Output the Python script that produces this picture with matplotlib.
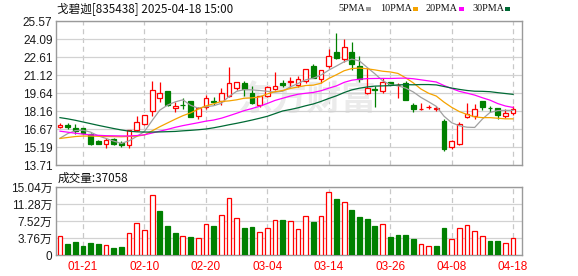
import matplotlib
matplotlib.use("Agg")
import matplotlib.pyplot as plt
from matplotlib.patches import Rectangle

plt.rcParams['font.family'] = ['Liberation Sans', 'Noto Sans CJK SC']

# ---- data (one entry per trading day, 01-16 .. 04-18) ----
opens = [16.81, 17.03, 16.76, 16.76, 16.27, 15.70, 15.43, 15.86, 15.54, 15.32,
         16.57, 17.06, 18.18, 19.27, 19.79, 18.45, 18.70, 18.97, 17.72, 18.48,
         19.02, 19.00, 19.38, 20.06, 20.44, 19.68, 18.67, 19.43, 20.01, 20.44,
         20.55, 20.28, 20.66, 21.86, 20.82, 21.86, 23.01, 22.43, 23.06, 21.89,
         19.65, 19.98, 19.81, 20.52, 20.30, 20.44, 18.70, 18.31, 18.47, 18.36,
         17.31, 15.21, 15.43, 17.66, 17.72, 19.02, 18.45, 18.40, 17.77, 18.04]
highs = [17.17, 17.17, 17.06, 16.76, 16.33, 15.81, 15.97, 15.97, 15.70, 16.63,
         17.74, 17.85, 20.61, 20.53, 19.85, 18.90, 19.20, 19.00, 18.46, 19.46,
         19.30, 20.03, 21.83, 20.60, 20.66, 20.25, 19.43, 20.25, 21.42, 20.72,
         20.99, 21.04, 21.67, 22.08, 21.56, 23.31, 24.64, 24.13, 23.88, 22.71,
         21.75, 20.25, 20.85, 20.55, 20.50, 20.66, 18.80, 18.81, 18.70, 18.59,
         17.52, 15.81, 17.28, 18.86, 18.75, 19.02, 18.62, 18.40, 18.32, 18.62]
lows = [16.76, 16.65, 16.30, 16.24, 15.40, 15.43, 15.15, 15.37, 15.21, 15.15,
        16.52, 17.00, 17.77, 18.92, 18.60, 18.05, 18.37, 17.69, 17.53, 18.34,
        18.64, 18.70, 19.30, 19.90, 19.41, 18.75, 18.53, 19.35, 19.93, 20.12,
        20.12, 20.12, 20.47, 20.93, 20.50, 21.70, 22.46, 22.22, 21.56, 20.53,
        19.57, 18.53, 19.65, 20.30, 19.25, 19.08, 18.10, 18.28, 18.32, 18.13,
        14.85, 15.07, 15.32, 17.61, 17.53, 18.26, 18.12, 17.50, 17.58, 17.83]
closes = [16.98, 16.82, 16.49, 16.33, 15.48, 15.43, 15.75, 15.43, 15.37, 16.57,
          17.22, 17.80, 19.93, 19.68, 18.64, 18.55, 18.65, 17.69, 18.45, 19.27,
          18.92, 19.68, 20.50, 20.58, 19.95, 18.83, 19.43, 20.14, 20.25, 20.33,
          20.65, 20.82, 21.67, 20.93, 21.56, 22.71, 22.52, 23.44, 22.02, 20.80,
          20.03, 19.92, 20.58, 20.36, 20.35, 19.08, 18.34, 18.34, 18.53, 18.45,
          15.02, 15.67, 17.06, 17.93, 18.37, 18.48, 18.39, 17.83, 18.04, 18.37]

ma5 = [15.92, 16.30, 16.55, 16.58, 16.42, 16.11, 15.90, 15.68, 15.49, 15.71,
       16.07, 16.48, 17.38, 18.24, 18.65, 18.92, 19.09, 18.64, 18.40, 18.52,
       18.60, 18.80, 19.36, 19.79, 19.93, 19.91, 19.86, 19.79, 19.72, 19.80,
       20.16, 20.44, 20.74, 20.88, 21.13, 21.54, 21.88, 22.23, 22.45, 22.30,
       21.76, 21.24, 20.67, 20.34, 20.25, 20.06, 19.74, 19.29, 18.93, 18.55,
       17.74, 17.20, 16.95, 16.83, 16.81, 17.50, 18.05, 18.20, 18.22, 18.22]
ma10 = [15.90, 15.98, 16.06, 16.10, 16.10, 16.08, 16.06, 16.05, 16.04, 16.07,
        16.09, 16.19, 16.53, 16.87, 17.18, 17.49, 17.78, 18.01, 18.32, 18.59,
        18.76, 18.95, 19.00, 19.09, 19.22, 19.25, 19.33, 19.58, 19.76, 19.86,
        20.03, 20.15, 20.27, 20.30, 20.46, 20.85, 21.16, 21.49, 21.67, 21.71,
        21.65, 21.56, 21.45, 21.39, 21.27, 20.91, 20.49, 19.98, 19.63, 19.40,
        18.90, 18.47, 18.12, 17.88, 17.68, 17.62, 17.62, 17.57, 17.52, 17.52]
ma20 = [16.50, 16.42, 16.33, 16.26, 16.20, 16.16, 16.13, 16.12, 16.11, 16.11,
        16.14, 16.20, 16.35, 16.50, 16.65, 16.82, 16.96, 17.08, 17.20, 17.33,
        17.42, 17.57, 17.77, 17.98, 18.20, 18.37, 18.56, 18.79, 19.04, 19.22,
        19.40, 19.55, 19.63, 19.70, 19.84, 20.05, 20.24, 20.53, 20.71, 20.79,
        20.84, 20.85, 20.86, 20.85, 20.87, 20.88, 20.83, 20.74, 20.65, 20.56,
        20.27, 20.02, 19.79, 19.64, 19.48, 19.26, 19.06, 18.78, 18.58, 18.46]
ma30 = [17.62, 17.52, 17.40, 17.26, 17.12, 16.98, 16.85, 16.72, 16.60, 16.50,
        16.45, 16.43, 16.43, 16.44, 16.46, 16.48, 16.53, 16.57, 16.62, 16.68,
        16.78, 16.90, 17.03, 17.15, 17.28, 17.42, 17.57, 17.73, 17.95, 18.17,
        18.29, 18.43, 18.60, 18.75, 18.96, 19.20, 19.42, 19.69, 19.91, 20.05,
        20.15, 20.22, 20.24, 20.26, 20.32, 20.34, 20.33, 20.35, 20.35, 20.32,
        20.19, 20.06, 19.95, 19.86, 19.80, 19.79, 19.76, 19.68, 19.61, 19.54]

# volume in 万 (10k); vol_up = bar drawn red (hollow) vs green
vol_wan = [4.18, 2.42, 2.86, 1.98, 2.64, 2.42, 2.20, 1.54, 1.83, 4.77,
           6.97, 5.43, 13.35, 9.68, 6.38, 4.84, 4.18, 3.98, 3.72, 6.75,
           6.38, 8.95, 12.69, 8.14, 5.94, 6.16, 4.99, 5.87, 7.85, 7.70,
           7.41, 5.65, 8.73, 7.26, 8.73, 14.01, 12.33, 11.81, 9.90, 8.36,
           7.92, 6.38, 6.75, 3.96, 4.40, 4.40, 3.52, 2.35, 1.98, 1.98,
           5.94, 3.45, 5.94, 6.53, 5.21, 4.18, 3.08, 3.08, 2.57, 3.7058]
vol_up = [1, 0, 0, 0, 0, 0, 1, 0, 0, 1, 1, 1, 1, 0, 0, 0, 1, 0, 1, 1,
          0, 1, 1, 1, 0, 0, 1, 1, 1, 0, 1, 1, 1, 0, 1, 1, 0, 1, 0, 0,
          0, 0, 1, 0, 0, 0, 0, 1, 1, 0, 0, 1, 1, 1, 1, 1, 0, 0, 1, 1]

tick_idx = [3, 11, 19, 27, 35, 43, 51, 59]
tick_labels = ["01-21", "02-10", "02-20", "03-04", "03-14", "03-26", "04-08", "04-18"]
price_ticks = [13.71, 15.19, 16.67, 18.16, 19.64, 21.12, 22.61, 24.09, 25.57]
vol_ticks = [0, 3.76, 7.52, 11.28, 15.04]
last_volume = 37058
title = "戈碧迦[835438] 2025-04-18 15:00"
ma_names = ["5PMA", "10PMA", "20PMA", "30PMA"]

RED, GREEN = "#ff0000", "#008000"
MA_COLORS = ["#a0a0a0", "#f5a300", "#ff00ff", "#006a35"]
GRID, SPINE = "#d2d2d2", "#9a9a9a"
CJK = ['Noto Sans CJK SC', 'DejaVu Sans']

W, H = 578, 276
fig = plt.figure(figsize=(W / 100, H / 100), dpi=100)


def px_axes(l, t, r, b):
    return fig.add_axes([l / W, 1 - b / H, (r - l) / W, (b - t) / H])


ax = px_axes(56, 21.3, 522, 165)
axv = px_axes(56, 187, 522, 255)
x = list(range(len(closes)))
bw = 0.62

for a in (ax, axv):
    a.set_xlim(-0.52, 60.16)
    for s in a.spines.values():
        s.set_color(SPINE); s.set_linewidth(1.0)
    for i in tick_idx:
        a.axvline(i, color="#c8c8c8", ls=(0, (4, 3)), lw=0.9, zorder=0)
    a.tick_params(length=0, labelsize=8.5, colors="#1a1a1a", pad=2.5)

# ---- price panel ----
ax.set_ylim(13.71, 25.57)
ax.set_yticks(price_ticks)
ax.set_yticklabels([f"{v:.2f}" for v in price_ticks])
ax.yaxis.grid(True, color=GRID, lw=0.9, zorder=0)
ax.set_xticks([])

ax.text(0.54, 0.46, "东方财富", transform=ax.transAxes, ha="center", va="center",
        fontsize=25, fontweight="bold", color="#ebebeb", family=CJK, zorder=1)

for i, (o, h, l, c) in enumerate(zip(opens, highs, lows, closes)):
    up = c >= o
    col = RED if up else GREEN
    ax.vlines(i, l, h, color=col, lw=0.9, zorder=3)
    ax.add_patch(Rectangle((i - bw / 2, min(o, c)), bw, max(abs(c - o), 0.02),
                           facecolor="white" if up else col, edgecolor=col,
                           lw=0.9, zorder=4))

for vals, col in zip([ma5, ma10, ma20, ma30], MA_COLORS):
    ax.plot(x, vals, color=col, lw=0.9, zorder=5)

# ---- volume panel ----
axv.set_ylim(0, 15.04)
axv.set_yticks(vol_ticks)
axv.set_yticklabels(["0"] + [f"{v:.2f}万" for v in vol_ticks[1:]])
axv.yaxis.grid(True, color=GRID, lw=0.9, zorder=0)
axv.set_xticks(tick_idx)
axv.set_xticklabels(tick_labels, color=RED, fontsize=8.5)
axv.tick_params(axis="x", pad=4.5)
for i, (v, u) in enumerate(zip(vol_wan, vol_up)):
    col = RED if u else GREEN
    axv.bar(i, v, width=bw, facecolor="white" if u else col, edgecolor=col,
            lw=0.9, zorder=3)

# ---- header texts ----
fig.text(57 / W, 1 - 8.5 / H, title, fontsize=8.4, family=CJK, va="center",
         color="#111111")
fig.text(58 / W, 1 - 178 / H, f"成交量:{last_volume}", fontsize=8.4, family=CJK,
         va="center", color="#111111")

leg_x = [338, 380, 425, 472]
sq_x = [366, 413, 459, 505]
for name, col, tx, sx in zip(ma_names, MA_COLORS, leg_x, sq_x):
    fig.text(tx / W, 1 - 8.6 / H, name, fontsize=7.3, family="Liberation Serif",
             va="center", color="#111111")
    fig.add_artist(Rectangle((sx / W, 1 - 10.6 / H), 5 / W, 3.6 / H,
                             transform=fig.transFigure, facecolor=col,
                             edgecolor="none"))

fig.savefig("out.png", dpi=100)
